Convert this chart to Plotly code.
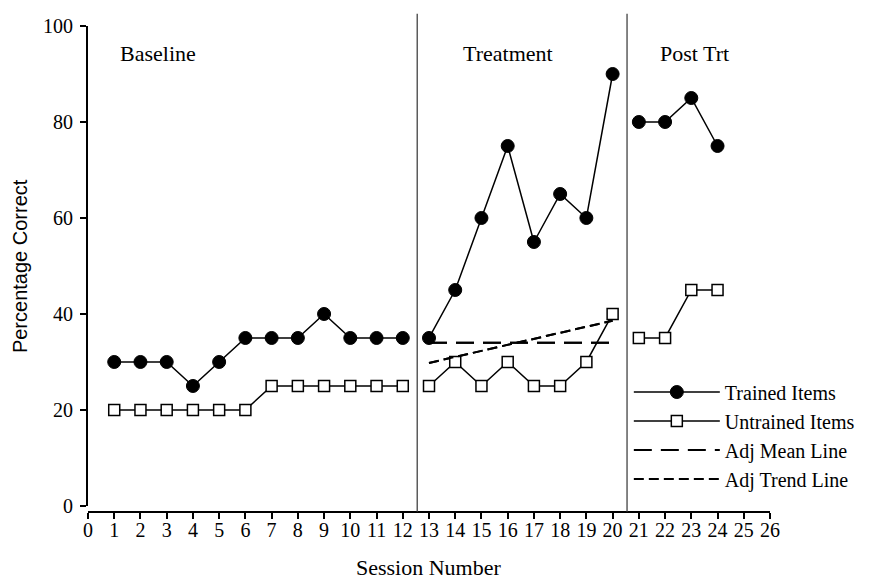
import plotly.graph_objects as go

# ---- data ----
sessions = list(range(1, 25))
trained = [30, 30, 30, 25, 30, 35, 35, 35, 40, 35, 35, 35,
           35, 45, 60, 75, 55, 65, 60, 90,
           80, 80, 85, 75]
untrained = [20, 20, 20, 20, 20, 20, 25, 25, 25, 25, 25, 25,
             25, 30, 25, 30, 25, 25, 30, 40,
             35, 35, 45, 45]
phase_ends = [12, 20]          # last session of each phase (line breaks after)
phase_lines = [12.55, 20.55]   # phase change lines
phase_labels = ["Baseline", "Treatment", "Post Trt"]
phase_label_x = [2.66, 16.0, 23.14]
phase_label_y = 94.2
mean_x = [13, 20]
mean_y = [34, 34]
trend_x = [13, 20]
trend_y = [29.8, 38.6]
x_ticks = list(range(0, 27))
y_ticks = [0, 20, 40, 60, 80, 100]
x_title = "Session Number"
y_title = "Percentage Correct"


def with_breaks(xs, ys, breaks):
    ox, oy = [], []
    for x, y in zip(xs, ys):
        ox.append(x)
        oy.append(y)
        if x in breaks:
            ox.append(None)
            oy.append(None)
    return ox, oy


SERIF = "Liberation Serif, Times New Roman, serif"
SANS = "Liberation Sans, Arial, sans-serif"

fig = go.Figure()

tx, ty = with_breaks(sessions, trained, phase_ends)
ux, uy = with_breaks(sessions, untrained, phase_ends)

fig.add_trace(go.Scatter(
    x=mean_x, y=mean_y, mode="lines", name="Adj Mean Line",
    line=dict(color="black", width=2, dash="18px,9px"), showlegend=False))
fig.add_trace(go.Scatter(
    x=trend_x, y=trend_y, mode="lines", name="Adj Trend Line",
    line=dict(color="black", width=2, dash="10px,5px"), showlegend=False))

fig.add_trace(go.Scatter(
    x=tx, y=ty, mode="lines+markers", name="Trained Items",
    line=dict(color="black", width=1.5),
    marker=dict(symbol="circle", size=13, color="black",
                line=dict(color="black", width=1))))
fig.add_trace(go.Scatter(
    x=ux, y=uy, mode="lines+markers", name="Untrained Items",
    line=dict(color="black", width=1.5),
    marker=dict(symbol="square", size=11, color="white",
                line=dict(color="black", width=1.5))))
# legend entries for the dashed lines (same data, shown in legend order)
fig.add_trace(go.Scatter(
    x=mean_x, y=mean_y, mode="lines", name="Adj Mean Line",
    line=dict(color="black", width=2, dash="18px,9px")))
fig.add_trace(go.Scatter(
    x=trend_x, y=trend_y, mode="lines", name="Adj Trend Line",
    line=dict(color="black", width=2, dash="10px,5px")))

for xv in phase_lines:
    fig.add_shape(type="line", xref="x", yref="paper", x0=xv, x1=xv,
                  y0=0, y1=1.025, line=dict(color="#333333", width=1.2))

for lab, lx in zip(phase_labels, phase_label_x):
    fig.add_annotation(x=lx, y=phase_label_y, xref="x", yref="y", text=lab,
                       showarrow=False, font=dict(family=SERIF, size=22, color="black"))

fig.add_annotation(x=0.5, y=-0.114, xref="paper", yref="paper", text=x_title,
                   showarrow=False, xanchor="center", yanchor="middle",
                   font=dict(family=SERIF, size=22, color="black"))
fig.add_annotation(x=-0.0997, y=0.506, xref="paper", yref="paper", text=y_title,
                   showarrow=False, xanchor="center", yanchor="middle", textangle=-90,
                   font=dict(family=SANS, size=20, color="black"))

fig.update_layout(
    width=871, height=582,
    margin=dict(l=88, r=101, t=26, b=70, autoexpand=False),
    plot_bgcolor="white", paper_bgcolor="white",
    font=dict(family=SERIF, size=20, color="black"),
    xaxis=dict(range=[0, 26], tickvals=x_ticks, ticktext=[str(v) for v in x_ticks],
               showgrid=False, zeroline=False, showline=True, linecolor="black",
               linewidth=2, ticks="outside", ticklen=6, tickwidth=1.5,
               tickcolor="black", anchor="free", position=0, automargin=False,
               ticklabelstandoff=-6,
               tickfont=dict(family=SERIF, size=20)),
    yaxis=dict(range=[0, 100], domain=[0.0124, 1], tickvals=y_ticks,
               showgrid=False, zeroline=False, showline=True, linecolor="black",
               linewidth=2, ticks="outside", ticklen=6, tickwidth=1.5,
               tickcolor="black", ticklabelstandoff=3, automargin=False,
               tickfont=dict(family=SERIF, size=20)),
    legend=dict(x=0.793, y=0.287, xanchor="left", yanchor="top",
                font=dict(family=SERIF, size=20), itemwidth=86,
                bgcolor="rgba(0,0,0,0)", tracegroupgap=0),
    showlegend=True,
)

fig.write_html("out.html")
